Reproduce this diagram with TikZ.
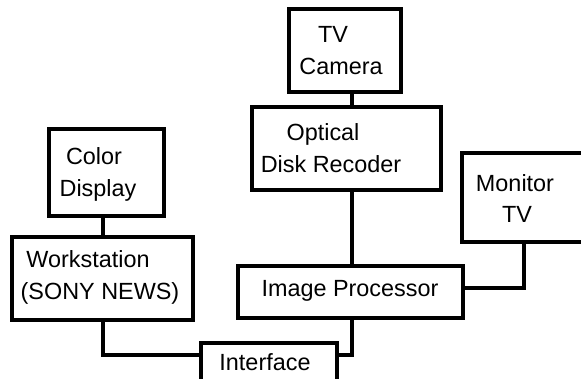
\documentclass[tikz,border=0pt]{standalone}
\usepackage{fontspec}
\setmainfont{Liberation Sans}
\begin{document}
\begin{tikzpicture}[x=1bp,y=-1bp,
  box/.style={draw,line width=3.2bp,rectangle,inner sep=0pt},
  lbl/.style={anchor=base,inner sep=0pt,font=\fontsize{23.4bp}{32bp}\selectfont},
  wire/.style={line width=3.2bp,line cap=rect}]
\useasboundingbox (0,0) rectangle (581,378);
\clip (0,0) rectangle (581,378);
% boxes
\node[box,minimum width=112bp,minimum height=83bp] (cam) at (345,50.5) {};
\node[box,minimum width=189bp,minimum height=83bp] (odr) at (346.5,148.5) {};
\node[box,minimum width=138bp,minimum height=89bp] (mon) at (531,197.5) {};
\node[box,minimum width=225bp,minimum height=52bp] (ip) at (350.5,292) {};
\node[box,minimum width=115bp,minimum height=87bp] (cd) at (106.5,172.5) {};
\node[box,minimum width=181bp,minimum height=83bp] (ws) at (102.5,278.5) {};
\node[box,minimum width=136bp,minimum height=60bp] (intf) at (269,373) {};
% labels
\node[lbl] (t1) at (333,42) {TV};
\node[lbl] (t2) at (341,74) {Camera};
\node[lbl] (t3) at (323,140) {Optical};
\node[lbl] (t4) at (331,172) {Disk Recoder};
\node[lbl] (t5) at (515,191) {Monitor};
\node[lbl] (t6) at (517,222) {TV};
\node[lbl] (t7) at (350,296) {Image Processor};
\node[lbl] (t8) at (94,164) {Color};
\node[lbl] (t9) at (98,196) {Display};
\node[lbl] (t10) at (88,267) {Workstation};
\node[lbl] (t11) at (100,299) {(SONY NEWS)};
\node[lbl] (t12) at (265,370) {Interface};
% connector columns/rows
\coordinate (xA) at (352,0);
\coordinate (xM) at (524,0);
\coordinate (xW) at (103,0);
\coordinate (yI) at (0,355);
\coordinate (yP) at (0,288);
% connectors
\draw[wire] (cam.south -| xA) -- (odr.north -| xA);
\draw[wire] (odr.south -| xA) -- (ip.north -| xA);
\draw[wire] (ip.east |- yP) -| (xM |- mon.south);
\draw[wire] (ip.south -| xA) |- (intf.east |- yI);
\draw[wire] (cd.south -| xW) -- (ws.north -| xW);
\draw[wire] (ws.south -| xW) |- (intf.west |- yI);
\end{tikzpicture}
\end{document}
